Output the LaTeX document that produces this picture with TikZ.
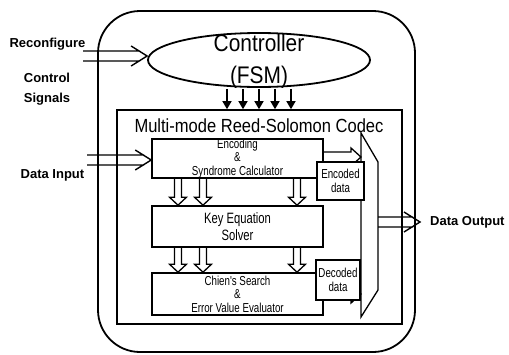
\documentclass[tikz,border=0pt]{standalone}
\usepackage{fontspec}
\setmainfont{Liberation Sans}
\newfontfamily\narrowfont[FakeStretch=0.75]{Liberation Sans}
\newfontfamily\tallfont[FakeStretch=0.87]{Liberation Sans}
\usetikzlibrary{arrows.meta, shapes.geometric, positioning, calc}

\begin{document}
\begin{tikzpicture}[x=1pt, y=-1pt, line join=miter,
    box/.style={draw, line width=1.6pt, fill=white, inner sep=0pt, align=center},
    boxtext/.style={font=\narrowfont\fontsize{13}{13.5}\selectfont},
    lbl/.style={font=\bfseries\fontsize{13}{20}\selectfont, align=center, inner sep=0pt},
    busin/.style={line width=1.4pt, to path={let \p1=(\tikztostart), \p2=(\tikztotarget) in
      (\x1,\y1+5pt) -- (\x2-7pt,\y1+5pt) (\x1,\y1-5pt) -- (\x2-7pt,\y1-5pt)
      (\x2-16pt,\y1+10pt) -- (\x2,\y1) -- (\x2-16pt,\y1-10pt)}},
    ctlarr/.style={line width=1.4pt, -{Triangle[width=9pt, length=8pt]}},
    hollowdown/.style={line width=1.3pt, to path={let \p1=(\tikztostart), \p2=(\tikztotarget) in
      (\x1-3.5pt,\y1) -- (\x1-3.5pt,\y2+8pt) -- (\x1-8.5pt,\y2+8pt) -- (\x1,\y2)
      -- (\x1+8.5pt,\y2+8pt) -- (\x1+3.5pt,\y2+8pt) -- (\x1+3.5pt,\y1)}},
    hollowright/.style={line width=1.3pt, to path={let \p1=(\tikztostart), \p2=(\tikztotarget) in
      (\x1,\y1+5pt) -- (\x2-10pt,\y1+5pt) -- (\x2-10pt,\y1+9pt) -- (\x2,\y1)
      -- (\x2-10pt,\y1-9pt) -- (\x2-10pt,\y1-5pt) -- (\x1,\y1-5pt)}}]
  \useasboundingbox (0,0) rectangle (509,354);

  % --- outer chip ---
  \node[draw, line width=1.8pt, rounded corners=42pt, minimum width=317pt, minimum height=341pt] (chip) at (256.5,181.5) {};

  % --- controller ---
  \node[ellipse, draw, line width=1.8pt, minimum width=222pt, minimum height=54pt, inner sep=0pt] (ctrl) at (259,60) {};
  \node[font=\tallfont\fontsize{24}{32}\selectfont, align=center, inner sep=0pt] (ctrltxt) at ([yshift=-1pt]ctrl.center) {Controller\\(FSM)};

  % --- codec and its blocks ---
  \node[box, minimum width=285pt, minimum height=214pt] (codec) at (259.5,217) {};
  \node[font=\tallfont\fontsize{19}{19}\selectfont, inner sep=0pt] (title) at (259,126) {Multi-mode Reed-Solomon Codec};

  \node[box, boxtext, minimum width=171pt, minimum height=39pt] (enc) at (237.5,158.5) {Encoding\\\&\\Syndrome Calculator};
  \node[box, font=\narrowfont\fontsize{15}{17}\selectfont, minimum width=171pt, minimum height=41pt] (key) at (237.5,226.5) {Key Equation\\Solver};
  \node[box, boxtext, minimum width=171pt, minimum height=42pt] (chien) at (237.5,294) {Chien's Search\\\&\\Error Value Evaluator};

  % hollow arrows between the blocks
  \coordinate (c1) at (178,0);
  \coordinate (c2) at (203,0);
  \coordinate (c3) at (297,0);
  \foreach \c in {c1,c2,c3} {
    \draw[hollowdown] (enc.south -| \c) to (key.north -| \c);
    \draw[hollowdown] (key.south -| \c) to (chien.north -| \c);
  }

  % --- mux ---
  \coordinate (m1) at (361,133);
  \coordinate (m2) at (378,162);
  \coordinate (m3) at (378,290);
  \coordinate (m4) at (361,317);
  \coordinate (ea) at (0,157);
  \coordinate (eb) at (0,294);
  \draw[hollowright] (enc.east |- ea) to (ea -| m1);
  \draw[hollowright] (chien.east |- eb) to (eb -| m1);
  \draw[line width=1.3pt] (m1) -- (m2) -- (m3) -- (m4) -- cycle;

  \node[box, boxtext, minimum width=47pt, minimum height=38pt] (encd) at (340.5,181) {Encoded\\data};
  \node[box, boxtext, minimum width=44pt, minimum height=40pt] (decd) at (338,280) {Decoded\\data};

  % --- control lines ---
  \foreach \dx [count=\n] in {-32,-16,0,16,32} {
    \coordinate (s\n) at ([xshift=\dx pt, yshift=-1pt]ctrl.south);
    \draw[ctlarr] (s\n) -- (s\n |- codec.north);
  }

  % --- inputs and output ---
  \coordinate (rin) at (83,56);
  \draw[busin] (rin) to (rin -| ctrl.west);
  \coordinate (din) at (87,160);
  \draw[busin] (din) to (din -| enc.west);
  \coordinate (dout) at (420,222);
  \draw[busin] (dout -| m2) to (dout);

  \node[lbl] (recfg) at (47.5,44) {Reconfigure};
  \node[lbl] (ctlsig) at (47,89) {Control\\Signals};
  \node[lbl] (datain) at (52.5,175) {Data Input};
  \node[lbl, right=10pt of dout] (dataout) {Data Output};
\end{tikzpicture}
\end{document}
